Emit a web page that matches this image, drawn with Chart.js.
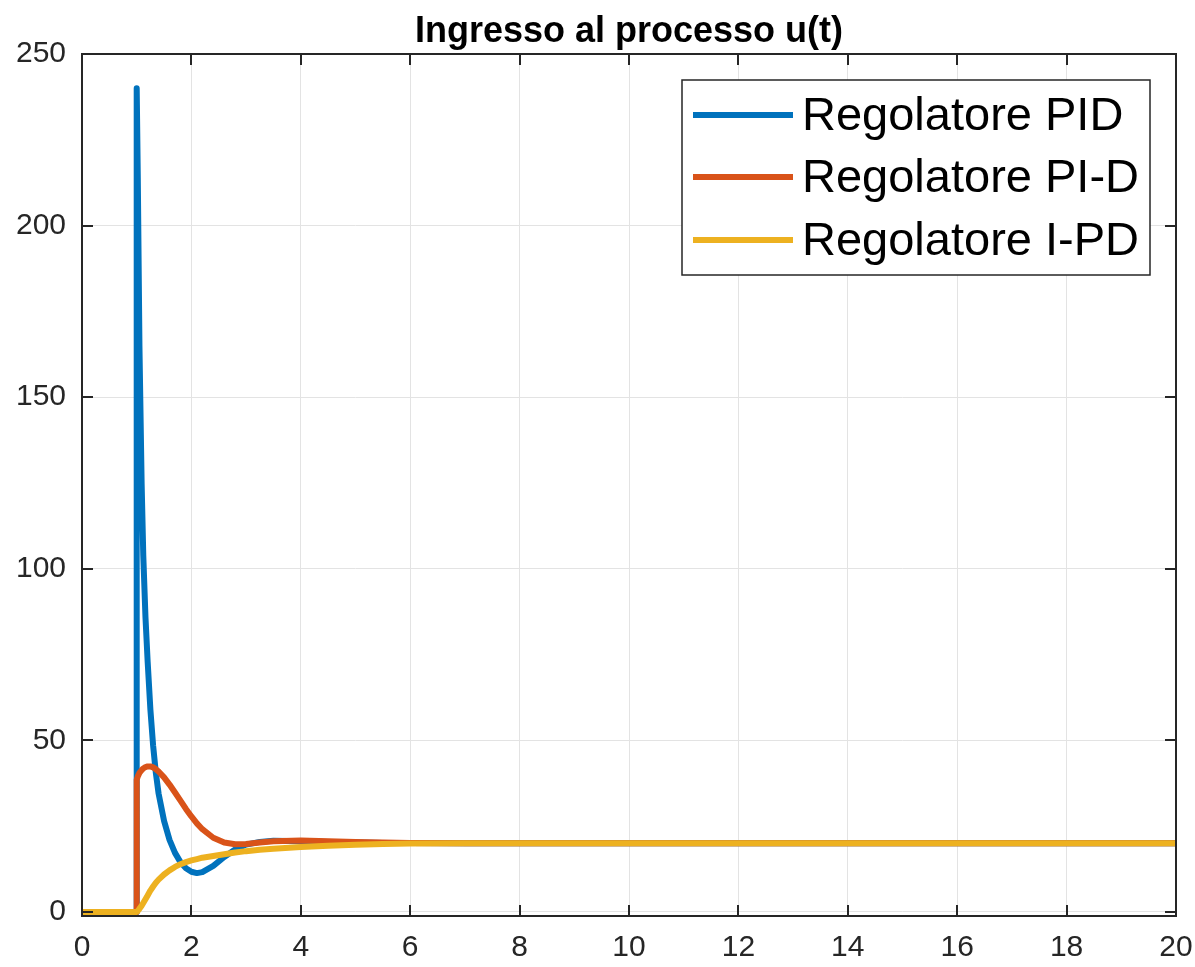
<!DOCTYPE html>
<html>
<head>
<meta charset="utf-8">
<script src="https://cdn.jsdelivr.net/npm/chart.js@4/dist/chart.umd.min.js"></script>
<style>
  html, body { margin: 0; padding: 0; background: #ffffff; }
  #c { display: block; }
</style>
</head>
<body>
<canvas id="c" width="1195" height="967"></canvas>
<script>
// ---- data ----
const chartTitle = "Ingresso al processo u(t)";
const seriesLabels = ["Regolatore PID", "Regolatore PI-D", "Regolatore I-PD"];
const timeValues = [0, 1, 1, 1.02, 1.05, 1.09, 1.12, 1.16, 1.2, 1.25, 1.3, 1.35, 1.4, 1.5, 1.6, 1.7, 1.8, 1.9, 2.0, 2.1, 2.2, 2.4, 2.6, 2.8, 3.0, 3.25, 3.5, 4.0, 4.5, 5.0, 5.5, 6, 7, 8, 10, 20];
const pidValues  = [0, 0, 240, 214, 165, 125, 104, 86, 73, 59, 48.5, 40.5, 34.5, 26.5, 21, 17.2, 14.5, 12.7, 11.7, 11.3, 11.6, 13.4, 16, 18.2, 19.6, 20.4, 20.7, 20.6, 20.4, 20.2, 20.1, 20.05, 20, 20, 20, 20];
const pidDValues = [0, 0, 38.5, 39.5, 40.5, 41.3, 41.8, 42.2, 42.4, 42.4, 42.1, 41.6, 40.9, 39.2, 37.1, 34.8, 32.4, 30, 27.8, 25.8, 24.1, 21.6, 20.2, 19.7, 19.8, 20.2, 20.6, 20.8, 20.6, 20.4, 20.2, 20.1, 20, 20, 20, 20];
const iPdValues  = [0, 0, 0, 0.3, 0.9, 1.8, 2.6, 3.7, 4.8, 6.2, 7.4, 8.5, 9.4, 10.9, 12.1, 13.1, 13.9, 14.5, 15.0, 15.4, 15.8, 16.3, 16.8, 17.3, 17.7, 18.1, 18.4, 18.9, 19.3, 19.55, 19.75, 19.9, 20, 20, 20, 20];
const xTicks = [0, 2, 4, 6, 8, 10, 12, 14, 16, 18, 20];
const yTicks = [0, 50, 100, 150, 200, 250];

const colors = ["#0072BD", "#D95319", "#EDB120"];
const axisColor = "#262626";

function toPoints(ys) { return timeValues.map((t, i) => ({ x: t, y: ys[i] })); }

const allSeries = [pidValues, pidDValues, iPdValues];
const datasets = allSeries.map((ys, i) => ({
  label: seriesLabels[i],
  data: toPoints(ys),
  borderColor: colors[i],
  backgroundColor: colors[i],
  borderWidth: 6,
  pointRadius: 0,
  tension: 0,
  fill: false,
  borderCapStyle: 'round',
  borderJoinStyle: 'round',
  order: 3 - i
}));

const FONT = "'Liberation Sans', Arial, Helvetica, sans-serif";

const framePlugin = {
  id: 'frame',
  afterDraw(chart) {
    const ctx = chart.ctx;
    const a = chart.chartArea;
    const xs = chart.scales.x, ys = chart.scales.y;
    ctx.save();
    // box
    ctx.strokeStyle = axisColor;
    ctx.lineWidth = 2;
    ctx.strokeRect(a.left, a.top, a.right - a.left, a.bottom - a.top);
    // inward ticks
    const tl = 11;
    ctx.beginPath();
    xTicks.forEach(v => {
      const px = Math.round(xs.getPixelForValue(v));
      ctx.moveTo(px, a.bottom); ctx.lineTo(px, a.bottom - tl);
      ctx.moveTo(px, a.top); ctx.lineTo(px, a.top + tl);
    });
    yTicks.forEach(v => {
      const py = Math.round(ys.getPixelForValue(v));
      ctx.moveTo(a.left, py); ctx.lineTo(a.left + tl, py);
      ctx.moveTo(a.right, py); ctx.lineTo(a.right - tl, py);
    });
    ctx.stroke();
    // title
    ctx.fillStyle = "#000000";
    ctx.font = "bold 36px " + FONT;
    ctx.textAlign = 'center';
    ctx.textBaseline = 'alphabetic';
    ctx.fillText(chartTitle, (a.left + a.right) / 2, 42);
    // legend
    const lx = 682, ly = 80, lw = 468, lh = 195;
    ctx.fillStyle = "#ffffff";
    ctx.fillRect(lx, ly, lw, lh);
    ctx.strokeStyle = axisColor;
    ctx.lineWidth = 1.5;
    ctx.strokeRect(lx, ly, lw, lh);
    const rows = [115, 177, 240];
    ctx.font = "47px " + FONT;
    ctx.textAlign = 'left';
    ctx.textBaseline = 'middle';
    chart.data.datasets.forEach((ds, i) => {
      ctx.strokeStyle = ds.borderColor;
      ctx.lineWidth = 6;
      ctx.beginPath();
      ctx.moveTo(693, rows[i]); ctx.lineTo(793, rows[i]);
      ctx.stroke();
      ctx.fillStyle = "#000000";
      ctx.fillText(ds.label, 802, rows[i] + 2);
    });
    ctx.restore();
  }
};

new Chart(document.getElementById('c'), {
  type: 'line',
  data: { datasets },
  options: {
    responsive: false,
    animation: false,
    devicePixelRatio: 1,
    layout: { padding: { top: 54, right: 19, left: 0, bottom: 0 } },
    plugins: { legend: { display: false }, tooltip: { enabled: false }, title: { display: false } },
    scales: {
      x: {
        type: 'linear', min: 0, max: 20,
        afterFit(s) { s.height = 51; s.paddingLeft = 0; s.paddingRight = 0; },
        afterBuildTicks(s) { s.ticks = xTicks.map(v => ({ value: v })); },
        grid: { color: '#e3e3e3', lineWidth: 1, drawTicks: false },
        border: { display: false },
        ticks: { color: axisColor, font: { family: FONT, size: 30 }, padding: 14, maxRotation: 0 }
      },
      y: {
        type: 'linear', min: -1.2, max: 250,
        afterFit(s) { s.width = 82; s.paddingTop = 0; s.paddingBottom = 0; },
        afterBuildTicks(s) { s.ticks = yTicks.map(v => ({ value: v })); },
        grid: { color: '#e3e3e3', lineWidth: 1, drawTicks: false },
        border: { display: false },
        ticks: { color: axisColor, font: { family: FONT, size: 30 }, padding: 16 }
      }
    }
  },
  plugins: [framePlugin]
});
</script>
</body>
</html>
